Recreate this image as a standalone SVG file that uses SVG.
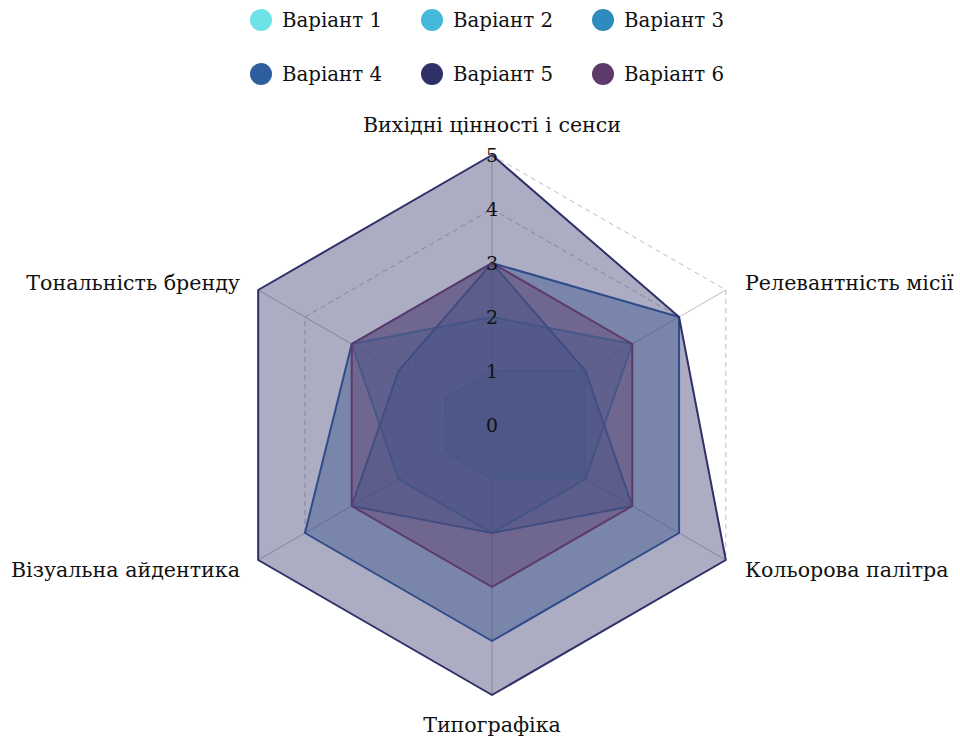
<svg xmlns="http://www.w3.org/2000/svg" width="960" height="740" viewBox="0 0 960 740">
<style>
text{font-family:"DejaVu Serif","Liberation Serif",serif;fill:#111;}
.leg{font-size:19.8px;}
.ax{font-size:20.6px;}
.tick{font-size:19px;text-anchor:middle;dominant-baseline:central;}
.grid{fill:none;stroke:#bdbdbd;stroke-width:1;stroke-dasharray:5 4;}
.spoke{stroke:#bdbdbd;stroke-width:1;}
.s{stroke-width:2;stroke-linejoin:round;fill-opacity:0.4;}
</style>
<rect width="960" height="740" fill="#fff"/>
<g id="legend">
<g id="leg1"><circle cx="261" cy="20" r="11" fill="#6de3e8"/><text class="leg" x="282" y="27">Варіант 1</text></g>
<g id="leg2"><circle cx="432" cy="20" r="11" fill="#43b8d8"/><text class="leg" x="453" y="27">Варіант 2</text></g>
<g id="leg3"><circle cx="603" cy="20" r="11" fill="#2e8bbd"/><text class="leg" x="624" y="27">Варіант 3</text></g>
<g id="leg4"><circle cx="261" cy="74" r="11" fill="#2f5e9e"/><text class="leg" x="282" y="81">Варіант 4</text></g>
<g id="leg5"><circle cx="432" cy="74" r="11" fill="#2f3068"/><text class="leg" x="453" y="81">Варіант 5</text></g>
<g id="leg6"><circle cx="603" cy="74" r="11" fill="#5e3a6a"/><text class="leg" x="624" y="81">Варіант 6</text></g>
</g>
<g id="grid">
<polygon class="grid" points="492,371 538.77,398 538.77,452 492,479 445.23,452 445.23,398"/>
<polygon class="grid" points="492,317 585.53,371 585.53,479 492,533 398.47,479 398.47,371"/>
<polygon class="grid" points="492,263 632.3,344 632.3,506 492,587 351.7,506 351.7,344"/>
<polygon class="grid" points="492,209 679.06,317 679.06,533 492,641 304.94,533 304.94,317"/>
<polygon class="grid" points="492,155 725.83,290 725.83,560 492,695 258.17,560 258.17,290"/>
<line class="spoke" x1="492" y1="425" x2="492" y2="155"/>
<line class="spoke" x1="492" y1="425" x2="725.83" y2="290"/>
<line class="spoke" x1="492" y1="425" x2="725.83" y2="560"/>
<line class="spoke" x1="492" y1="425" x2="492" y2="695"/>
<line class="spoke" x1="492" y1="425" x2="258.17" y2="560"/>
<line class="spoke" x1="492" y1="425" x2="258.17" y2="290"/>
</g>
<g id="series">
<polygon id="v1" class="s" fill="#6de3e8" stroke="#6de3e8" points="492,371 585.53,371 585.53,479 492,479 445.23,452 445.23,398"/>
<polygon id="v2" class="s" fill="#43b8d8" stroke="#43b8d8" points="492,317 632.3,344 585.53,479 492,533 398.47,479 351.7,344"/>
<polygon id="v3" class="s" fill="#2e8bbd" stroke="#2e8bbd" points="492,263 585.53,371 632.3,506 492,533 351.7,506 398.47,371"/>
<polygon id="v4" class="s" fill="#2f5e9e" stroke="#2f5e9e" points="492,263 679.06,317 679.06,533 492,641 304.94,533 351.7,344"/>
<polygon id="v5" class="s" fill="#2f3068" stroke="#2f3068" points="492,155 679.06,317 725.83,560 492,695 258.17,560 258.17,290"/>
<polygon id="v6" class="s" fill="#5e3a6a" stroke="#5e3a6a" points="492,263 632.3,344 632.3,506 492,587 351.7,506 351.7,344"/>
</g>
<g id="ticks">
<text class="tick" x="492" y="425">0</text>
<text class="tick" x="492" y="371">1</text>
<text class="tick" x="492" y="317">2</text>
<text class="tick" x="492" y="263">3</text>
<text class="tick" x="492" y="209">4</text>
<text class="tick" x="492" y="155">5</text>
</g>
<g id="axis-labels">
<text class="ax" x="492" y="132" text-anchor="middle">Вихідні цінності і сенси</text>
<text class="ax" x="745" y="290">Релевантність місії</text>
<text class="ax" x="745" y="577">Кольорова палітра</text>
<text class="ax" x="492" y="732" text-anchor="middle">Типографіка</text>
<text class="ax" x="240" y="577" text-anchor="end">Візуальна айдентика</text>
<text class="ax" x="240" y="290" text-anchor="end">Тональність бренду</text>
</g>
</svg>
